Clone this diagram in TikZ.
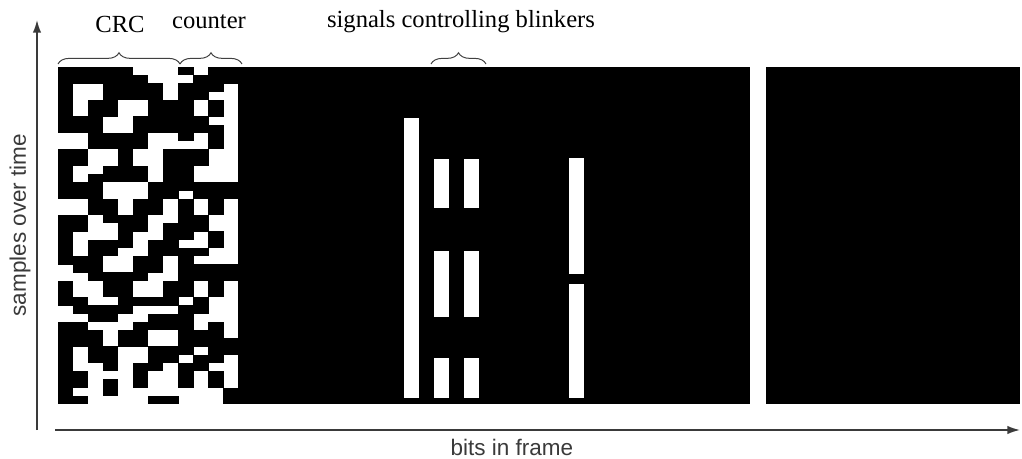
\documentclass[tikz,border=0pt]{standalone}
\usepackage{fontspec}
\setmainfont{Liberation Serif}
\setsansfont{Liberation Sans}
\usetikzlibrary{arrows.meta,decorations.pathreplacing}
\definecolor{axisgray}{HTML}{3A3A3A}

\tikzset{
  axisline/.style={draw=axisgray,line width=1.1pt,-{Latex[length=9pt,width=6pt]}},
  fieldbrace/.style={draw=black!75,line width=0.7pt,decorate,decoration={brace,amplitude=8pt}},
  fieldlabel/.style={font=\fontsize{17.5}{20}\selectfont,inner sep=0pt},
  axislabel/.style={font=\sffamily\fontsize{16}{19}\selectfont,text=axisgray,inner sep=0pt},
}

\begin{document}
\begin{tikzpicture}[x=0.025cm,y=-0.025cm]
\useasboundingbox (0,0) rectangle (1022,459);

% frame: crc and counter bits, one row per sample
\foreach \bits [count=\r from 0] in {
  {1,1,1,1,1,0,0,0,1,0,1,1},
  {1,1,1,1,1,1,0,0,0,1,1,1},
  {1,0,0,1,1,1,1,0,1,1,1,0},
  {1,0,0,1,1,1,1,0,1,1,0,0},
  {1,0,1,1,0,0,1,1,1,0,1,0},
  {1,0,1,1,0,0,1,1,1,0,1,0},
  {1,1,1,0,0,1,1,1,1,1,0,0},
  {1,1,1,0,0,1,1,1,1,1,1,0},
  {0,0,1,1,1,1,0,0,1,0,1,0},
  {0,0,1,1,1,1,0,0,0,0,1,0},
  {1,1,0,0,1,0,0,1,1,1,0,0},
  {1,1,0,0,1,0,0,1,1,1,0,0},
  {1,0,0,1,1,1,0,1,1,0,0,0},
  {1,0,1,1,1,1,0,1,1,0,0,0},
  {1,1,1,0,0,0,1,1,1,1,1,1},
  {1,1,1,0,0,0,1,1,0,1,1,1},
  {0,0,1,1,0,1,1,0,1,0,1,0},
  {0,0,1,1,0,1,1,0,1,0,1,0},
  {1,1,0,1,1,1,0,0,1,1,0,0},
  {1,1,0,0,1,1,0,1,1,1,0,0},
  {1,0,0,0,1,0,0,1,1,0,1,0},
  {1,0,1,1,1,0,1,1,0,0,1,0},
  {1,0,1,1,0,0,1,1,1,1,0,0},
  {1,1,1,0,0,1,1,0,1,0,0,0},
  {0,1,1,0,0,1,1,0,1,1,1,1},
  {0,0,1,1,1,1,0,0,1,1,1,1},
  {1,0,0,1,1,0,0,1,1,0,1,0},
  {1,0,0,1,1,0,0,1,1,0,1,0},
  {1,1,0,0,1,1,1,1,0,1,0,0},
  {0,1,1,1,1,0,0,0,1,1,0,0},
  {0,0,1,1,0,0,1,1,1,0,0,0},
  {1,1,0,0,0,1,1,1,1,0,1,0},
  {1,1,1,0,1,1,0,0,1,1,1,0},
  {1,1,1,0,1,1,0,0,1,1,1,1},
  {1,0,1,1,0,0,1,1,1,0,1,1},
  {1,0,1,1,0,0,1,1,0,1,1,0},
  {1,0,0,1,0,1,1,0,1,1,0,0},
  {1,1,0,0,0,1,0,0,1,0,1,0},
  {1,1,0,1,0,1,0,0,1,0,1,0},
  {1,0,0,1,0,0,0,0,0,0,0,1},
  {1,1,0,0,0,0,1,1,0,0,0,1}}
{
  \foreach \b [count=\c from 0] in \bits {
    \ifnum\b=1
      \fill ({58+15.03*\c},{67+8.22*\r}) rectangle ++(15.3,8.5);
    \fi
  }
}

% remaining data bits, all dominant
\fill (238.4,67) rectangle (750,404);
\fill (766,67) rectangle (1020,404);

% blinker signals
\fill[white] (403.7,118) rectangle (418.7,398);
\fill[white] (433.8,159) rectangle (448.8,208);
\fill[white] (433.8,251) rectangle (448.8,317);
\fill[white] (433.8,358) rectangle (448.8,398);
\fill[white] (463.9,159) rectangle (478.9,208);
\fill[white] (463.9,251) rectangle (478.9,317);
\fill[white] (463.9,358) rectangle (478.9,398);
\fill[white] (569,158) rectangle (584,274);
\fill[white] (569,284) rectangle (584,398);

% field braces
\coordinate (crcL) at (58,64);
\coordinate (crcR) at (180,64);
\coordinate (cntL) at (180,64);
\coordinate (cntR) at (242,64);
\coordinate (blkL) at (431,64);
\coordinate (blkR) at (486,64);
\draw[fieldbrace] (crcL) -- (crcR);
\draw[fieldbrace] (cntL) -- (cntR);
\draw[fieldbrace] (blkL) -- (blkR);
\node[fieldlabel] (crc) at (120,24) {CRC};
\node[fieldlabel] (cnt) at (209,22) {counter};
\node[fieldlabel] (blk) at (461,22) {signals controlling blinkers};

% axes
\coordinate (yfoot) at (37,430);
\coordinate (ytip) at (37,20);
\coordinate (xfoot) at (55,430);
\coordinate (xtip) at (1020,430);
\draw[axisline] (yfoot) -- (ytip);
\draw[axisline] (xfoot) -- (xtip);
\node[axislabel,rotate=90] (ylab) at (20,225) {samples over time};
\node[axislabel] (xlab) at (512,447) {bits in frame};
\end{tikzpicture}
\end{document}
